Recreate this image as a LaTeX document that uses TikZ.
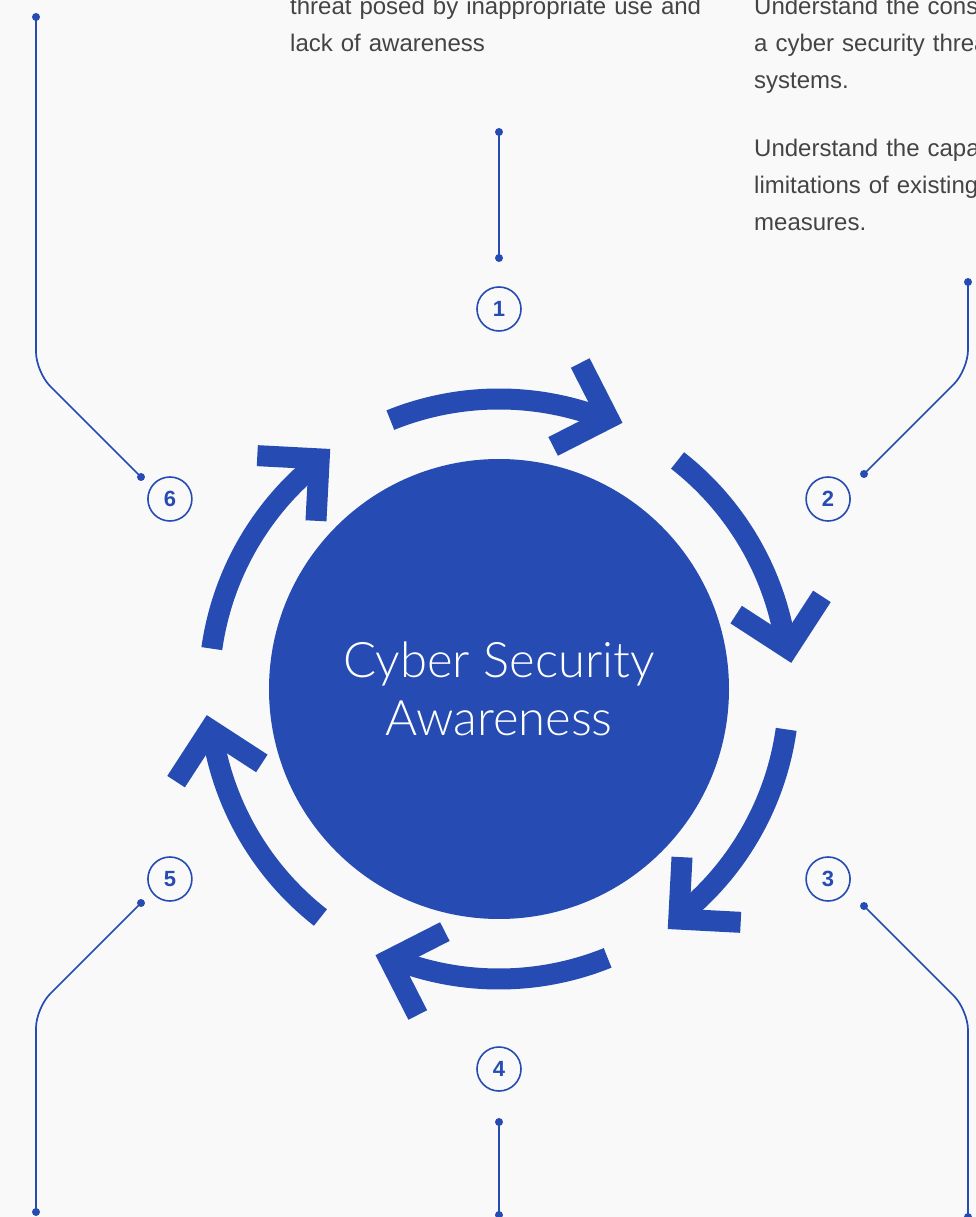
\documentclass[tikz,border=0pt]{standalone}
\usepackage{fontspec}
\setmainfont{Liberation Sans}
\newfontfamily\lightfont{Lato Light}
\usetikzlibrary{calc}
\definecolor{cyberblue}{RGB}{38,76,179}
\definecolor{pagebg}{RGB}{249,249,249}
\definecolor{bodygray}{RGB}{68,68,68}
\tikzset{
  loopline/.style={draw=cyberblue, line width=21pt},
  stepnum/.style={circle, draw=cyberblue, line width=1.6pt, minimum size=44pt,
    inner sep=0pt, text=cyberblue, font=\fontsize{22}{22}\selectfont\bfseries},
  leader/.style={draw=cyberblue, line width=1.7pt, rounded corners=20pt},
  blurb/.style={anchor=base west, inner sep=0pt, text width=430pt, align=left,
    text=bodygray, font=\fontsize{24}{37}\selectfont}
}

\begin{document}
\begin{tikzpicture}[x=1pt, y=1pt]
  \fill[pagebg] (-499,-528) rectangle (477,689);
  \clip (-499,-528) rectangle (477,689);

  % hub
  \node[circle, fill=cyberblue, minimum size=460pt, inner sep=0pt, text=white,
    align=center, font=\lightfont\fontsize{49}{58}\selectfont] (hub) at (0,0)
    {Cyber Security\\Awareness};

  % six arrows round the hub, clockwise
  \foreach \a in {90,30,-30,-90,-150,150}{
    \draw[loopline] (\a+22:290) arc[start angle=\a+22, end angle=\a-20, radius=290pt];
    \draw[loopline] ($(\a-22:292)+(\a+117:62)$) -- (\a-22:292) -- ++(\a+27:62);
  }

  % step numbers
  \foreach \a/\n in {90/1,30/2,-30/3,-90/4,-150/5,150/6}
    \node[stepnum] (n\n) at (\a:380) {\n};

  % leader ends
  \coordinate (p1) at (0,431);      \coordinate (q1) at (0,557);
  \coordinate (p2) at (365,215);    \coordinate (k2) at (469,319);    \coordinate (q2) at (469,407);
  \coordinate (p3) at (365,-217);   \coordinate (k3) at (469,-321);   \coordinate (q3) at (469,-528);
  \coordinate (p4) at (0,-433);     \coordinate (q4) at (0,-526);
  \coordinate (p5) at (-358,-214);  \coordinate (k5) at (-463,-319);  \coordinate (q5) at (-463,-523);
  \coordinate (p6) at (-358,212);   \coordinate (k6) at (-463,317);   \coordinate (q6) at (-463,672);

  \draw[leader] (p1) -- (q1);
  \draw[leader] (p2) -- (k2) -- (q2);
  \draw[leader] (p3) -- (k3) -- (q3);
  \draw[leader] (p4) -- (q4);
  \draw[leader] (p5) -- (k5) -- (q5);
  \draw[leader] (p6) -- (k6) -- (q6);
  \foreach \c in {p1,q1,p2,q2,p3,q3,p4,q4,p5,q5,p6,q6}
    \fill[cyberblue] (\c) circle (4pt);

  % text blocks
  \node[blurb] (goal1) at (-209,674.3)
    {threat posed by inappropriate use and\\lack of awareness};
  \node[blurb] (goal2) at (255,674.3)
    {Understand the cons\\a cyber security threa\\systems.\\[31pt]Understand the capa\\limitations of existing\\measures.};
\end{tikzpicture}
\end{document}
